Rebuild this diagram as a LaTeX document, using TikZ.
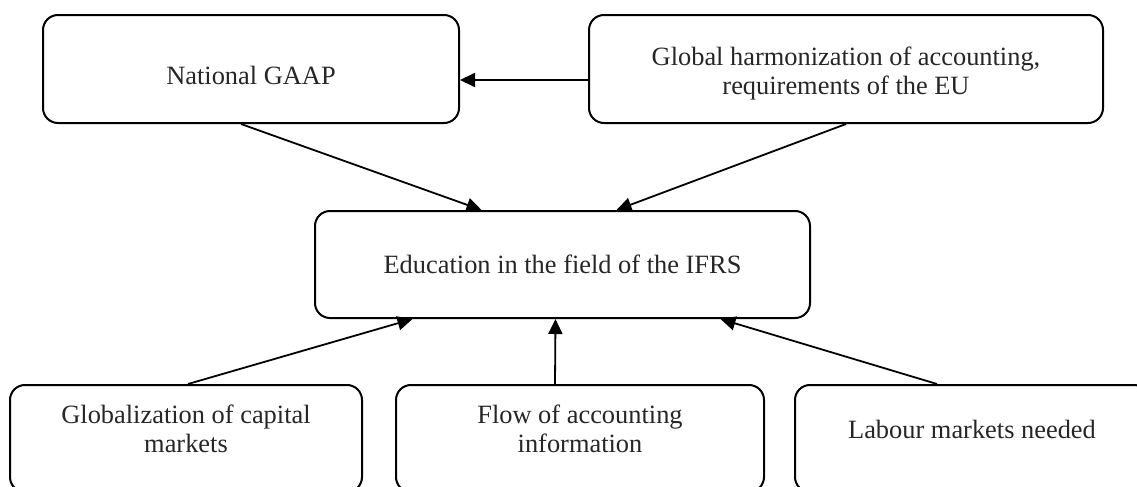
\documentclass[tikz,border=0pt]{standalone}
\usepackage{fontspec}
\setmainfont{Liberation Serif}
\usepackage{tikz}
\usetikzlibrary{arrows.meta}

% text lowered (or raised) inside its box without changing the box
\newcommand{\placetext}[2]{\raisebox{#1}[\height][\depth]{\begin{tabular}{@{}c@{}}#2\end{tabular}}}

\tikzset{
  factor/.style={draw, line width=1pt, rounded corners=7.5pt, align=center,
    font=\fontsize{13.2}{14.5}\selectfont, text=black!85, inner sep=0pt},
  link/.style={line width=0.9pt, -{Triangle[length=7.5pt,width=7pt]}}
}

\begin{document}
\begin{tikzpicture}[x=0.5pt,y=-0.5pt]

  \useasboundingbox (0,0) rectangle (1137,487);

  % Top row
  \node[factor, minimum width=208pt, minimum height=54pt] (gaap) at (251,69)
    {\placetext{-5pt}{National GAAP}};
  \node[factor, minimum width=257pt, minimum height=54pt] (harm) at (846,69)
    {\placetext{-2.5pt}{Global harmonization of accounting,\\ requirements of the EU}};

  % Centre
  \node[factor, minimum width=247.5pt, minimum height=53.5pt] (ifrs) at (562.5,264.5)
    {\placetext{-1.5pt}{Education in the field of the IFRS}};

  % Bottom row
  \node[factor, minimum width=176pt, minimum height=53.5pt] (capital) at (186,438.5)
    {\placetext{3pt}{Globalization of capital\\ markets}};
  \node[factor, minimum width=184pt, minimum height=53.5pt] (flow) at (580,438.5)
    {\placetext{3pt}{Flow of accounting\\ information}};
  \node[factor, minimum width=177pt, minimum height=53.5pt] (labour) at (972,438.5)
    {\placetext{3pt}{Labour markets needed}};

  % Arrows
  \draw[link] ([yshift=-5.5pt]harm.west) -- ([yshift=-5.5pt]gaap.east);
  \draw[link] ([xshift=-5pt]gaap.south) -- ([xshift=-40.5pt]ifrs.north);
  \draw[link] (harm.south) -- ([xshift=27pt]ifrs.north);
  \draw[link] ([xshift=1pt]capital.north) -- ([xshift=-75pt]ifrs.south);
  \draw[link] ([xshift=-12.5pt]flow.north) -- ([xshift=-3.5pt]ifrs.south);
  \draw[link] ([xshift=-17.5pt]labour.north) -- ([xshift=79pt]ifrs.south);

\end{tikzpicture}
\end{document}
